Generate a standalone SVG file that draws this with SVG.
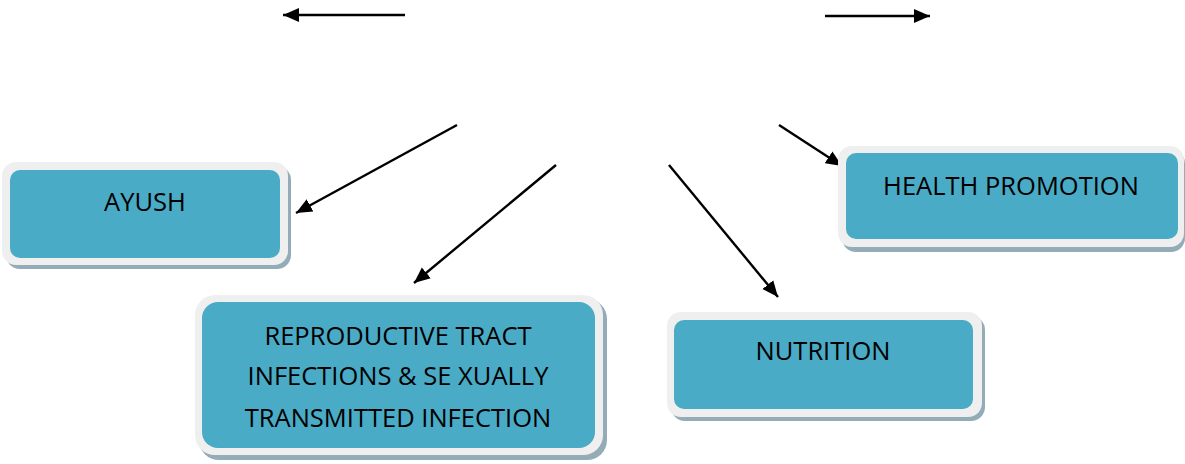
<svg xmlns="http://www.w3.org/2000/svg" width="1185" height="464" viewBox="0 0 1185 464">
  <style>
    .shadow { fill: #93acb8; }
    .frame { fill: #efefef; }
    .body { fill: #4aabc6; }
    .label { font-family: "Open Sans", "Liberation Sans", sans-serif; font-size: 25.5px; fill: #000; text-anchor: middle; }
    .conn { stroke: #000; stroke-width: 2.4; fill: none; marker-end: url(#head); }
  </style>
  <defs>
    <marker id="head" markerUnits="userSpaceOnUse" markerWidth="18" markerHeight="16" refX="16" refY="8" orient="auto">
      <path d="M0,1 L16,8 L0,15 Z" fill="#000"/>
    </marker>
  </defs>
  <rect width="1185" height="464" fill="#fff"/>

  <!-- connectors -->
  <g id="connectors">
    <line class="conn" x1="405" y1="15" x2="283" y2="15"/>
    <line class="conn" x1="825" y1="16" x2="930" y2="16"/>
    <line class="conn" x1="457" y1="125" x2="296" y2="213"/>
    <line class="conn" x1="556" y1="165" x2="414" y2="283"/>
    <line class="conn" x1="669" y1="165" x2="778" y2="297"/>
    <line class="conn" x1="779" y1="125" x2="842" y2="166"/>
  </g>

  <!-- AYUSH -->
  <g id="node-ayush">
    <rect class="shadow" x="6" y="166" width="285" height="103" rx="14"/>
    <rect class="frame" x="2" y="162" width="286" height="103" rx="14"/>
    <rect class="body" x="10" y="170" width="270" height="88" rx="10"/>
    <text class="label" x="145" y="211">AYUSH</text>
  </g>

  <!-- Reproductive tract infections -->
  <g id="node-rti">
    <rect class="shadow" x="199" y="299" width="408" height="161" rx="20"/>
    <rect class="frame" x="195" y="295" width="408" height="160" rx="20"/>
    <rect class="body" x="202" y="302" width="393" height="146" rx="16"/>
    <text class="label" x="398" y="345">REPRODUCTIVE TRACT</text>
    <text class="label" x="398" y="385">INFECTIONS &amp; SE XUALLY</text>
    <text class="label" x="398" y="427">TRANSMITTED INFECTION</text>
  </g>

  <!-- Nutrition -->
  <g id="node-nutrition">
    <rect class="shadow" x="671" y="316" width="314" height="105" rx="14"/>
    <rect class="frame" x="667" y="312" width="315" height="105" rx="14"/>
    <rect class="body" x="674" y="320" width="299" height="89" rx="10"/>
    <text class="label" x="823" y="360">NUTRITION</text>
  </g>

  <!-- Health promotion -->
  <g id="node-health">
    <rect class="shadow" x="842" y="150" width="343" height="102" rx="14"/>
    <rect class="frame" x="838" y="146" width="346" height="101" rx="14"/>
    <rect class="body" x="846" y="153" width="332" height="86" rx="10"/>
    <text class="label" x="1011" y="195">HEALTH PROMOTION</text>
  </g>
</svg>
